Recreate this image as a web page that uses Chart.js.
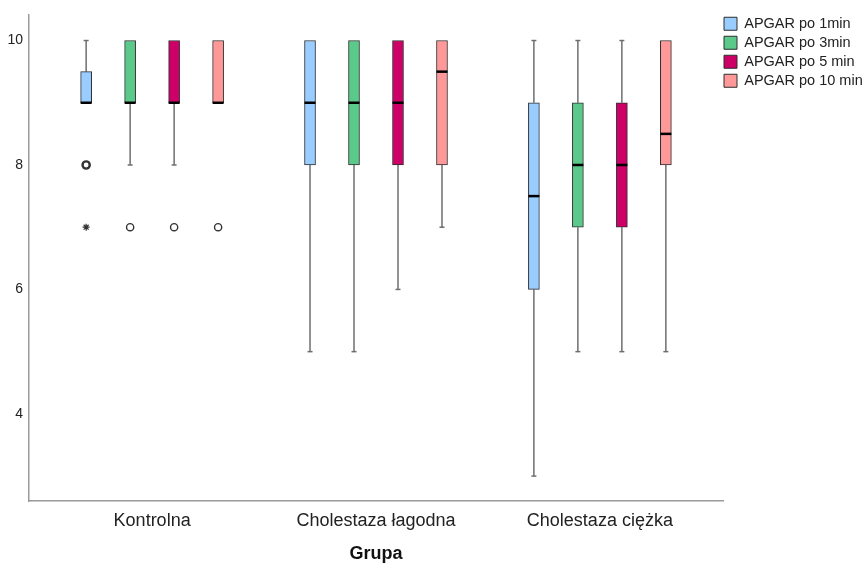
<!DOCTYPE html>
<html>
<head>
<meta charset="utf-8">
<script src="https://cdn.jsdelivr.net/npm/chart.js@4/dist/chart.umd.min.js"></script>
<style>
  html, body { margin: 0; padding: 0; background: #ffffff; }
  canvas { display: block; }
</style>
</head>
<body>
<canvas id="c" width="864" height="565"></canvas>
<script>
// ---- data ----
const categories = ['Kontrolna', 'Cholestaza łagodna', 'Cholestaza ciężka'];
const seriesNames = ['APGAR po 1min', 'APGAR po 3min', 'APGAR po 5 min', 'APGAR po 10 min'];
// five-number summaries per category: [min whisker, Q1, median, Q3, max whisker]
const apgar1min  = [[9, 9, 9, 9.5, 10], [5, 8, 9, 10, 10], [3, 6, 7.5, 9, 10]];
const apgar3min  = [[8, 9, 9, 10, 10],  [5, 8, 9, 10, 10], [5, 7, 8, 9, 10]];
const apgar5min  = [[8, 9, 9, 10, 10],  [6, 8, 9, 10, 10], [5, 7, 8, 9, 10]];
const apgar10min = [[9, 9, 9, 10, 10],  [7, 8, 9.5, 10, 10], [5, 8, 8.5, 10, 10]];
// outliers (circles) and extremes (stars) per category
const outliers1min  = [[8, 8], [], []];
const extremes1min  = [[7], [], []];
const outliers3min  = [[7], [], []];
const outliers5min  = [[7], [], []];
const outliers10min = [[7], [], []];
const yTicks = [4, 6, 8, 10];

// ---- styling ----
const colors = ['#99CCFF', '#5BC98A', '#CC0066', '#FF9999'];
const slot = 0.1965;           // horizontal distance between boxes (category units)
const FONT = "'Liberation Sans', Arial, sans-serif";

const summaries = [apgar1min, apgar3min, apgar5min, apgar10min];
const outlierSets = [outliers1min, outliers3min, outliers5min, outliers10min];
const extremeSets = [extremes1min, [[], [], []], [[], [], []], [[], [], []]];
const offsetOf = j => (j - 1.5) * slot;

const datasets = summaries.map((s, j) => ({
  type: 'bar',
  label: seriesNames[j],
  data: s.map((v, i) => ({ x: i + offsetOf(j), y: [v[1], v[3]] })),
  backgroundColor: colors[j],
  borderColor: '#2e2e2e',
  borderWidth: 1,
  borderSkipped: false,
  barThickness: 11,
  grouped: false,
  order: 2
}));

// collapse repeated outliers into one point carrying a case count
function collect(sets) {
  const pts = [];
  sets.forEach((set, j) => set.forEach((vals, i) => {
    const counts = {};
    vals.forEach(v => { counts[v] = (counts[v] || 0) + 1; });
    Object.keys(counts).forEach(v => pts.push({ x: i + offsetOf(j), y: +v, n: counts[v] }));
  }));
  return pts;
}
const outlierPoints = collect(outlierSets);
const extremePoints = collect(extremeSets);

datasets.push({
  type: 'scatter', label: 'outliers', data: outlierPoints,
  pointStyle: 'circle', pointRadius: 3.6,
  pointBorderWidth: c => (c.raw && c.raw.n > 1 ? 2.4 : 1.4),
  pointBorderColor: '#333333', pointBackgroundColor: '#ffffff', order: 0
});
datasets.push({
  type: 'scatter', label: 'extremes', data: extremePoints,
  pointStyle: 'star', pointRadius: 3.5, pointBorderWidth: 1.2,
  pointBorderColor: '#333333', pointBackgroundColor: '#333333', order: 0
});

// whiskers (behind boxes) and medians (on top)
const boxPlugin = {
  id: 'boxParts',
  beforeDatasetsDraw(chart) {
    const xs = chart.scales.x, ys = chart.scales.y, ctx = chart.ctx;
    ctx.save();
    ctx.strokeStyle = '#6e6e6e';
    ctx.lineWidth = 1.5;
    summaries.forEach((s, j) => s.forEach((v, i) => {
      const x = xs.getPixelForValue(i + offsetOf(j));
      const seg = (a, b) => {
        if (a === b) return;
        const ya = ys.getPixelForValue(a), yb = ys.getPixelForValue(b);
        ctx.beginPath(); ctx.moveTo(x, ya); ctx.lineTo(x, yb); ctx.stroke();
        ctx.beginPath(); ctx.moveTo(x - 2.5, yb); ctx.lineTo(x + 2.5, yb); ctx.stroke();
      };
      seg(v[3], v[4]);
      seg(v[1], v[0]);
    }));
    ctx.restore();
  },
  afterDatasetsDraw(chart) {
    const xs = chart.scales.x, ys = chart.scales.y, ctx = chart.ctx;
    ctx.save();
    ctx.strokeStyle = '#000000';
    ctx.lineWidth = 2.5;
    summaries.forEach((s, j) => s.forEach((v, i) => {
      const x = xs.getPixelForValue(i + offsetOf(j));
      const y = ys.getPixelForValue(v[2]);
      ctx.beginPath(); ctx.moveTo(x - 5.5, y); ctx.lineTo(x + 5.5, y); ctx.stroke();
    }));
    ctx.restore();
  }
};

// nudge the legend block slightly left and let it run to the canvas edge
const legendNudge = {
  id: 'legendNudge',
  afterLayout(chart) {
    const l = chart.legend;
    if (l) {
      l.left -= 3.5;
      l.right = chart.width;
      l.width = l.right - l.left;
    }
  }
};

new Chart(document.getElementById('c'), {
  data: { datasets },
  plugins: [boxPlugin, legendNudge],
  options: {
    responsive: false,
    animation: false,
    events: [],
    layout: { padding: { top: 12, right: 0, bottom: 0, left: 0 } },
    plugins: {
      tooltip: { enabled: false },
      legend: {
        position: 'right',
        align: 'start',
        maxWidth: 141,
        labels: {
          filter: item => item.datasetIndex < 4,
          boxWidth: 13,
          boxHeight: 13,
          padding: 4.5,
          color: '#222222',
          font: { family: FONT, size: 14.5 }
        }
      }
    },
    scales: {
      x: {
        type: 'linear',
        offset: false,
        min: -0.55,
        max: 2.55,
        afterBuildTicks: scale => { scale.ticks = categories.map((c, i) => ({ value: i })); },
        afterFit: scale => { scale.height = 64; },
        grid: { display: false, drawTicks: false },
        border: { display: true, color: '#9a9a9a', width: 1.5 },
        ticks: {
          callback: v => categories[v],
          color: '#222222',
          padding: 9,
          maxRotation: 0,
          font: { family: FONT, size: 18 }
        },
        title: {
          display: true,
          text: 'Grupa',
          color: '#111111',
          padding: { top: 0, bottom: 0 },
          font: { family: FONT, size: 18, weight: 'bold' }
        }
      },
      y: {
        type: 'linear',
        min: 2.6,
        max: 10.42,
        afterBuildTicks: scale => { scale.ticks = yTicks.map(v => ({ value: v })); },
        afterFit: scale => { scale.width = 29; },
        grid: { display: false, drawTicks: false },
        border: { display: true, color: '#9a9a9a', width: 1.5 },
        ticks: {
          color: '#222222',
          padding: 6,
          font: { family: FONT, size: 14 }
        }
      }
    }
  }
});
</script>
</body>
</html>
